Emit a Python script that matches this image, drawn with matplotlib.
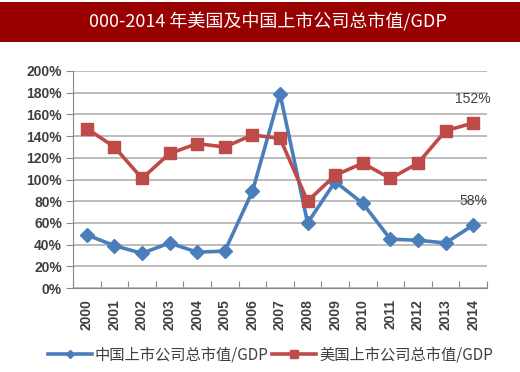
import matplotlib.pyplot as plt
from matplotlib.patches import Rectangle
from matplotlib.ticker import FuncFormatter

plt.rcParams['font.family'] = ['Liberation Sans', 'Noto Sans CJK SC', 'DejaVu Sans']

years = ['2000', '2001', '2002', '2003', '2004', '2005', '2006', '2007',
         '2008', '2009', '2010', '2011', '2012', '2013', '2014']
china = [49, 39, 32, 41.5, 33, 34, 89, 179, 60, 98, 78, 45, 44, 41.5, 58]
usa = [147, 130, 101, 124, 133, 130, 141, 138, 80, 104, 115, 101, 115, 145, 152]

title = '000-2014 年美国及中国上市公司总市值/GDP'
label_cn = '中国上市公司总市值/GDP'
label_us = '美国上市公司总市值/GDP'

blue = '#4a7ebb'
red = '#be4b48'
grey_text = '#404040'

fig = plt.figure(figsize=(5.2, 3.72), dpi=100)

# title bar
fig.patches.append(Rectangle((0, 1 - 42 / 372), 1, 40 / 372, transform=fig.transFigure,
                             facecolor='#990000', edgecolor='none'))
fig.text(0.515, 1 - 22 / 372, title, color='white', fontsize=13, ha='center', va='center',
         family=['Noto Sans CJK SC', 'DejaVu Sans'])

ax = fig.add_axes([73 / 520, 1 - 288 / 372, 414 / 520, 217 / 372])
x = range(len(years))
ax.plot(x, china, color=blue, lw=2.6, marker='D', ms=7, label=label_cn)
ax.plot(x, usa, color=red, lw=2.6, marker='s', ms=8.5, label=label_us)

ax.set_xlim(-0.5, len(years) - 0.5)
ax.set_ylim(0, 200)
ax.set_yticks(range(0, 201, 20))
ax.yaxis.set_major_formatter(FuncFormatter(lambda v, p: f'{v:.0f}%'))
ax.set_xticks([i - 0.5 for i in range(len(years) + 1)], minor=False)
ax.set_xticklabels([])
ax.set_xticks(list(x), minor=True)
ax.set_xticklabels(years, minor=True, rotation=90, fontsize=10, fontweight='bold', color=grey_text)
ax.tick_params(axis='x', which='minor', length=0, pad=8)
ax.tick_params(axis='x', which='major', length=5, color='#888888', direction='in')
ax.tick_params(axis='y', length=5, color='#888888', labelsize=10, labelcolor=grey_text, pad=3)
for t in ax.get_yticklabels():
    t.set_fontweight('bold')

ax.grid(axis='y', color='#b0b0b0', lw=1.2)
ax.set_axisbelow(True)
for s in ['top', 'right']:
    ax.spines[s].set_visible(False)
ax.spines['left'].set_color('#888888')
ax.spines['bottom'].set_color('#888888')

last = len(years) - 1
ax.annotate(f'{usa[last]:.0f}%', (last, usa[last]), xytext=(0, 17), textcoords='offset points',
            ha='center', va='center', fontsize=10, color=grey_text)
ax.annotate(f'{china[last]:.0f}%', (last, china[last]), xytext=(0, 17), textcoords='offset points',
            ha='center', va='center', fontsize=10, color=grey_text)

leg = fig.legend(loc='center', bbox_to_anchor=(0.52, 1 - 355 / 372), ncol=2, frameon=False,
                 handlelength=2.9, columnspacing=0.2, handletextpad=0.2, markerscale=0.6,
                 prop={'family': ['Noto Sans CJK SC', 'DejaVu Sans'], 'size': 11})
for t in leg.get_texts():
    t.set_color(grey_text)

fig.savefig('out.png', dpi=100)
